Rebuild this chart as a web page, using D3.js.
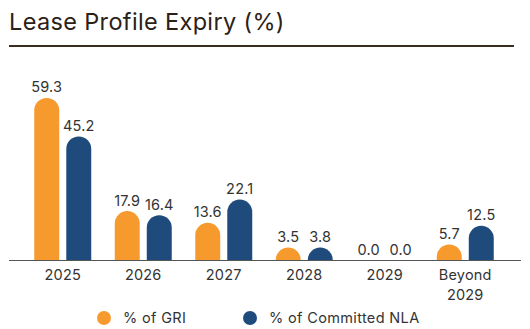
<!DOCTYPE html>
<html>
<head>
<meta charset="utf-8">
<script src="https://cdn.jsdelivr.net/npm/d3@7"></script>
<style>
  html, body { margin: 0; padding: 0; background: #fff; }
  svg { display: block; font-family: Inter, "Open Sans", sans-serif; }
</style>
</head>
<body>
<svg width="530" height="329"></svg>
<script>
const categories = ["2025", "2026", "2027", "2028", "2029", "Beyond 2029"];
const gri = [59.3, 17.9, 13.6, 3.5, 0.0, 5.7];
const nla = [45.2, 16.4, 22.1, 3.8, 0.0, 12.5];
const seriesNames = ["% of GRI", "% of Committed NLA"];
const colors = ["#F79A2E", "#1F4B7C"];

const svg = d3.select("svg");
const baseY = 260;
const textColor = "#333";

// title
svg.append("text")
  .attr("x", 9).attr("y", 30)
  .attr("font-size", 23.5).attr("letter-spacing", 0.35).attr("fill", "#2b2117")
  .text("Lease Profile Expiry (%)");
svg.append("line")
  .attr("x1", 9).attr("x2", 514).attr("y1", 46).attr("y2", 46)
  .attr("stroke", "#3a2c1e").attr("stroke-width", 2);

const x = d3.scaleBand().domain(categories).range([22.5, 505.5]);
const sub = d3.scaleBand().domain([0, 1]).range([x.bandwidth() / 2 - 28.5, x.bandwidth() / 2 + 28.5]).paddingInner(0.22);
const y = d3.scaleLinear().domain([0, 60]).range([baseY, 96]);

const bw = sub.bandwidth();
const r = bw / 2;

function barPath(x0, h) {
  if (h <= 0) return "";
  h = Math.max(h, r);
  const top = baseY - h;
  return `M${x0},${baseY}V${top + r}A${r},${r} 0 0 1 ${x0 + bw},${top + r}V${baseY}Z`;
}

const rows = categories.map((c, i) => ({ cat: c, vals: [gri[i], nla[i]] }));

const g = svg.append("g").selectAll("g").data(rows).join("g")
  .attr("transform", d => `translate(${x(d.cat)},0)`);

g.selectAll("path").data(d => d.vals.map((v, k) => ({ v, k }))).join("path")
  .attr("d", d => barPath(sub(d.k), baseY - y(d.v)))
  .attr("fill", d => colors[d.k]);

g.selectAll("text.val").data(d => d.vals.map((v, k) => ({ v, k }))).join("text")
  .attr("class", "val")
  .attr("x", d => sub(d.k) + bw / 2)
  .attr("y", d => {
    const h = d.v > 0 ? Math.max(baseY - y(d.v), r) : 0;
    return baseY - h - 5.5;
  })
  .attr("text-anchor", "middle")
  .attr("font-size", 14.5).attr("letter-spacing", 0.2).attr("fill", textColor)
  .text(d => d3.format(".1f")(d.v));

// baseline
svg.append("line")
  .attr("x1", 9).attr("x2", 521).attr("y1", baseY + 0.5).attr("y2", baseY + 0.5)
  .attr("stroke", "#555").attr("stroke-width", 1);

// category labels
const labels = svg.append("g").selectAll("text").data(categories).join("text")
  .attr("x", d => x(d) + x.bandwidth() / 2)
  .attr("y", 279.5)
  .attr("text-anchor", "middle")
  .attr("font-size", 14.5).attr("letter-spacing", 0.2).attr("fill", textColor);
labels.each(function (d) {
  const parts = d.startsWith("Beyond") ? ["Beyond", d.slice(7)] : [d];
  d3.select(this).selectAll("tspan").data(parts).join("tspan")
    .attr("x", x(d) + x.bandwidth() / 2)
    .attr("dy", (p, i) => i === 0 ? 0 : 20)
    .text(p => p);
});

// legend
const legendX = [104, 250];
const lg = svg.append("g").selectAll("g").data(seriesNames).join("g")
  .attr("transform", (d, i) => `translate(${legendX[i]},318)`);
lg.append("circle").attr("r", 7).attr("fill", (d, i) => colors[i]);
lg.append("text").attr("x", 19).attr("y", 5)
  .attr("font-size", 14.5).attr("letter-spacing", 0.35).attr("fill", textColor).text(d => d);
</script>
</body>
</html>
